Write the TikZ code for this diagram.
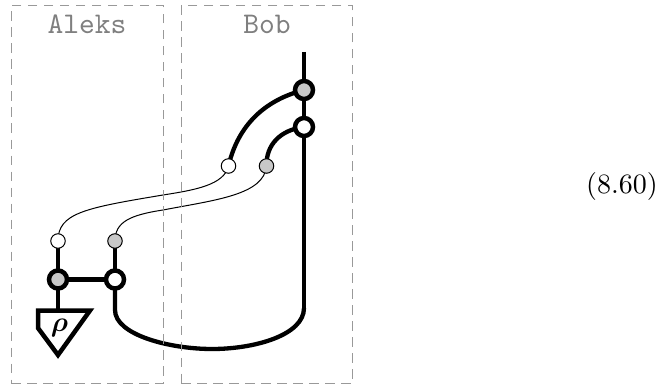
\documentclass[tikz,border=0pt]{standalone}
\usepackage{amsmath}
\usetikzlibrary{backgrounds}
\definecolor{partygray}{HTML}{999999}
\definecolor{nametext}{HTML}{7F7F7F}
\definecolor{spotgray}{HTML}{C8C8C8}
\tikzset{
  partybox/.style={draw=partygray,line width=0.9pt,dash pattern=on 9.5pt off 6.5pt},
  partyname/.style={text=nametext,font=\ttfamily,scale=3,inner sep=0pt,anchor=base},
  thickwire/.style={line width=4.3pt},
  thinwire/.style={line width=1pt},
  bigspot/.style={circle,draw,line width=4.5pt,minimum size=18pt,inner sep=0pt},
  smallspot/.style={circle,draw,line width=1pt,minimum size=14.5pt,inner sep=0pt},
  eqlabel/.style={scale=2.8,inner sep=0pt,anchor=base}
}
\begin{document}
\begin{tikzpicture}[x=1pt,y=-1pt]
\useasboundingbox (0,0) rectangle (666,385);
\node[partybox,minimum width=152pt,minimum height=378pt,inner sep=0pt] (aleksbox) at (87,194.5) {};
\node[partybox,minimum width=171pt,minimum height=378pt,inner sep=0pt] (bobbox) at (266.5,194.5) {};
\node[partyname] (aleks) at (87,33.5) {Aleks};
\node[partyname] (bob) at (267,33.5) {Bob};
\node[eqlabel] (eq) at (622,193) {(8.60)};
\node[smallspot,fill=white] (aw) at (58,241) {};
\node[smallspot,fill=spotgray] (ag) at (115,241) {};
\node[bigspot,fill=spotgray] (ac) at (58,279.5) {};
\node[bigspot,fill=white] (at) at (115,279.5) {};
\node[bigspot,fill=spotgray] (bc) at (304,90) {};
\node[bigspot,fill=white] (bt) at (304,127) {};
\node[smallspot,fill=white] (bw) at (228.5,166) {};
\node[smallspot,fill=spotgray] (bg) at (266.5,166) {};
\coordinate (top) at (304,52);
\coordinate (state) at (58,310);
\coordinate (turn) at (304,308);
\draw[line width=4.5pt,miter limit=10,fill=white] (38,310.5) -- (90,310.5) -- (58,355) -- (38,328) -- cycle;
\node[inner sep=0pt,scale=2.8] (rho) at (59.5,327.5) {$\boldsymbol{\rho}$};
\begin{scope}[on background layer]
\draw[thickwire] (top) -- (bc.center) -- (bt.center) -- (turn);
\draw[thickwire] (aw.center) -- (ac.center) -- (state);
\draw[thickwire] (ag.center) -- (at.center);
\draw[thickwire] (ac.center) -- (at.center);
\draw[thickwire] (at.center) -- (115,310) .. controls (115,335) and (170,349) .. (212,349) .. controls (255,349) and (304,335) .. (turn);
\draw[thickwire] (bw.center) .. controls (238,125) and (265,100) .. (bc.center);
\draw[thickwire] (bg.center) .. controls (266,145) and (280,130) .. (bt.center);
\draw[thinwire] (aw.center) .. controls (58,213) and (85,208) .. (163,195) .. controls (195,190) and (224,185) .. (bw.center);
\draw[thinwire] (ag.center) .. controls (115,222) and (130,215) .. (163,210) .. controls (215,200) and (264,195) .. (bg.center);
\end{scope}
\end{tikzpicture}
\end{document}
